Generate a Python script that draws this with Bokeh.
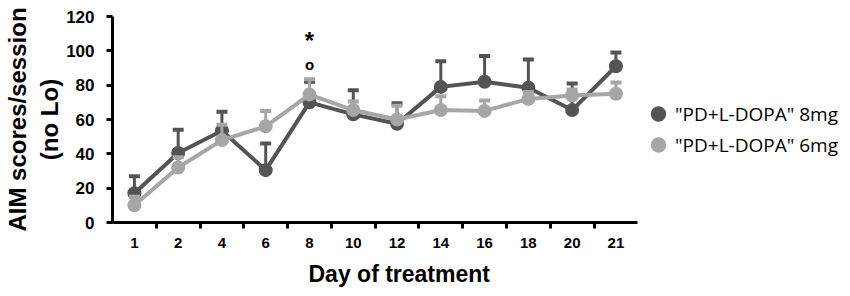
from bokeh.plotting import figure
from bokeh.models import (ColumnDataSource, Range1d, FixedTicker, Legend, LegendItem, Title)
from bokeh.core.properties import value
from bokeh.embed import file_html
from bokeh.resources import INLINE

# ---- data ----
days = ["1", "2", "4", "6", "8", "10", "12", "14", "16", "18", "20", "21"]
dose8_mean = [17, 40.5, 53.5, 30.5, 70, 63, 57.5, 79, 82, 78.5, 65.5, 91]
dose8_err = [10, 13.5, 11, 15.5, 12, 14, 12, 15, 15, 16.5, 15.5, 8]
dose6_mean = [10, 32, 48, 56, 74.5, 65.5, 60, 65.5, 65, 72, 74, 75]
dose6_err = [5, 6, 9, 9, 9, 5, 8, 8, 6, 4, 3.5, 6.5]
series_names = ['"PD+L-DOPA" 8mg', '"PD+L-DOPA" 6mg']
star_day = ["8"]
star_y = [106]
circle_day = ["8"]
circle_y = [92]
y_ticks = [0, 20, 40, 60, 80, 100, 120]

DARK = "#545454"
LIGHT = "#a6a6a6"
AXFONT = "Liberation Sans"

W, H = 838, 296
BL, BB, BT = 100, 74, 16
DATA_W = 534                      # pixel width of the axis part of the frame
n = len(days)
px_per_unit = DATA_W / n
x_end = -0.5 + (W - BL) / px_per_unit   # frame extends right to host the legend

idx = list(range(n))
p = figure(width=W, height=H, output_backend="svg", toolbar_location=None,
           x_range=Range1d(-0.5, x_end), y_range=Range1d(0, 120),
           min_border_left=BL, min_border_right=0, min_border_top=BT,
           min_border_bottom=BB)
p.outline_line_color = None
p.grid.visible = False
p.background_fill_color = "white"
p.border_fill_color = "white"

# ---- axes ----
xa = p.xaxis[0]
xa.bounds = (-0.5, n - 0.5)
xa.ticker = FixedTicker(ticks=idx, minor_ticks=[i + 0.5 for i in idx[:-1]])
xa.major_label_overrides = {i: d for i, d in zip(idx, days)}
xa.major_tick_out = 0
xa.major_tick_in = 0
xa.minor_tick_out = 6
xa.minor_tick_in = 0
xa.minor_tick_line_width = 3
xa.minor_tick_line_color = "black"
xa.axis_line_width = 3
xa.axis_line_color = "black"
xa.major_label_text_font = AXFONT
xa.major_label_text_font_style = "bold"
xa.major_label_text_font_size = "15px"
xa.major_label_text_color = "black"
xa.major_label_standoff = 9

ya = p.yaxis[0]
ya.ticker = FixedTicker(ticks=y_ticks, minor_ticks=[])
ya.major_tick_out = 6
ya.major_tick_in = 0
ya.major_tick_line_width = 3
ya.axis_line_width = 3
ya.axis_line_color = "black"
ya.major_label_text_font = AXFONT
ya.major_label_text_font_style = "bold"
ya.major_label_text_font_size = "17px"
ya.major_label_text_color = "black"
ya.major_label_standoff = 12
ya.axis_label = "AIM scores/session\n(no Lo)"
ya.axis_label_text_font = AXFONT
ya.axis_label_text_font_style = "bold"
ya.axis_label_text_font_size = "24px"
ya.axis_label_standoff = 0
ya.axis_label_text_color = "black"

xtitle = Title(text="Day of treatment", align="left", offset=196,
               text_font=AXFONT, text_font_style="bold", text_font_size="23px",
               text_color="black", standoff=16)
p.add_layout(xtitle, "below")

renderers = []
for mean, err, color in [(dose8_mean, dose8_err, DARK), (dose6_mean, dose6_err, LIGHT)]:
    upper = [m + e for m, e in zip(mean, err)]
    src = ColumnDataSource(dict(x=idx, y=mean, up=upper))
    p.segment(x0="x", y0="y", x1="x", y1="up", source=src, line_color=color, line_width=3)
    p.scatter(x="x", y="up", source=src, marker="dash", size=11, line_color=color,
              line_width=4)
    p.line(x="x", y="y", source=src, line_color=color, line_width=4)
    r = p.scatter(x="x", y="y", source=src, marker="circle", size=11,
                  fill_color=color, line_color=color, line_width=3)
    renderers.append(r)

# significance markers
p.text(x=[days.index(d) for d in star_day], y=star_y, text=["*"],
       text_align="center", text_baseline="middle",
       text_font=value(AXFONT), text_font_style="bold", text_font_size="24px",
       text_color="black")
p.text(x=[days.index(d) for d in circle_day], y=circle_y, text=["o"],
       text_align="center", text_baseline="middle",
       text_font=value(AXFONT), text_font_style="bold", text_font_size="15px",
       text_color="black")

legend = Legend(items=[LegendItem(label=series_names[0], renderers=[renderers[0]]),
                       LegendItem(label=series_names[1], renderers=[renderers[1]])],
                location=(DATA_W - 5, 62), glyph_width=34, glyph_height=31,
                label_height=31, spacing=0, padding=0, margin=0, label_standoff=0,
                border_line_color=None, background_fill_alpha=0,
                label_text_font="Open Sans", label_text_font_size="19px",
                label_text_color="black")
p.add_layout(legend, "center")

open("out.html", "w").write(file_html(p, INLINE))
